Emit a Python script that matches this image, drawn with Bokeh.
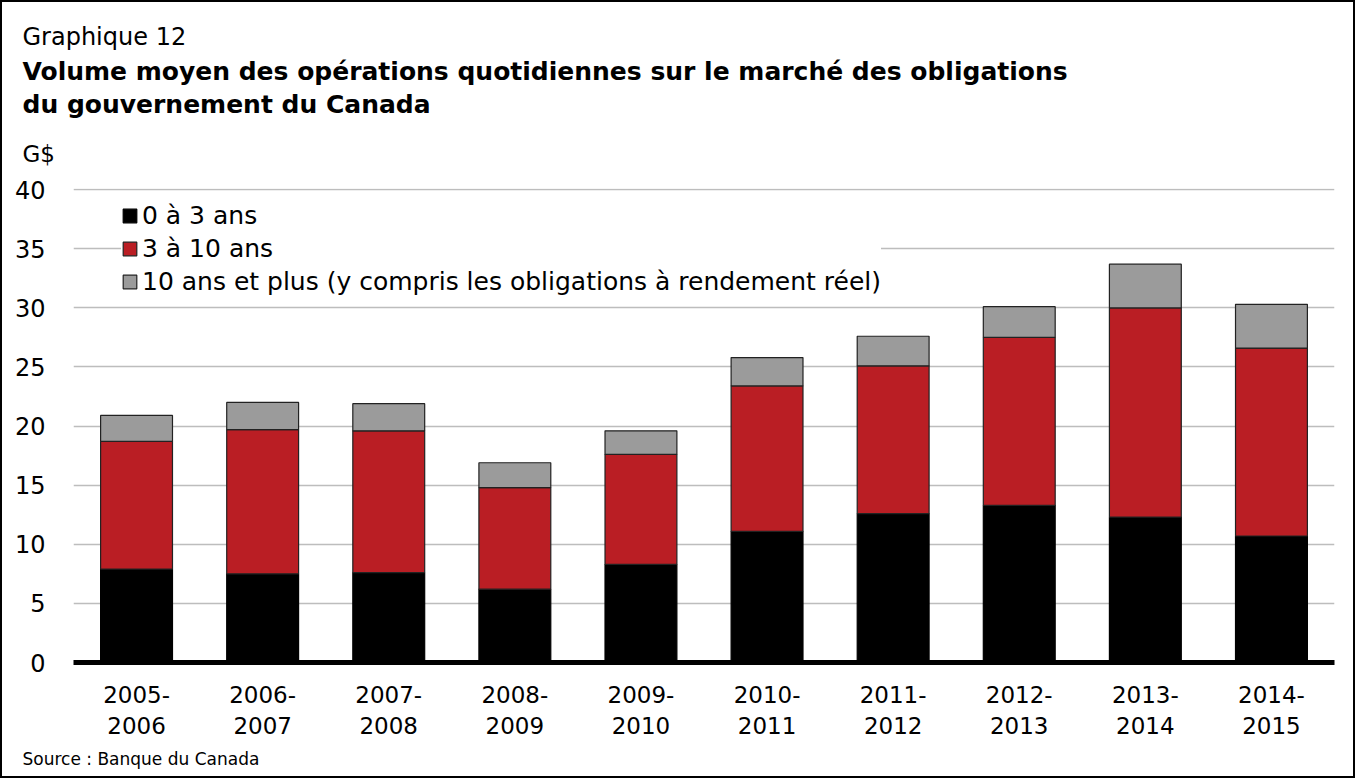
from bokeh.plotting import figure
from bokeh.models import Legend, LegendItem, ColumnDataSource, FixedTicker, Range1d, Title
from bokeh.embed import file_html
from bokeh.resources import INLINE

periods = ["2005-\n2006", "2006-\n2007", "2007-\n2008", "2008-\n2009", "2009-\n2010",
           "2010-\n2011", "2011-\n2012", "2012-\n2013", "2013-\n2014", "2014-\n2015"]
court = [7.9, 7.5, 7.6, 6.2, 8.3, 11.1, 12.6, 13.3, 12.3, 10.7]
moyen = [10.8, 12.2, 12.0, 8.6, 9.3, 12.3, 12.5, 14.2, 17.7, 15.9]
long_ = [2.2, 2.3, 2.3, 2.1, 2.0, 2.4, 2.5, 2.6, 3.7, 3.7]
series = ["court", "moyen", "long"]
names = ["0 à 3 ans", "3 à 10 ans", "10 ans et plus (y compris les obligations à rendement réel)"]
colors = ["#000000", "#BA1E24", "#9B9B9B"]
yticks = [0, 5, 10, 15, 20, 25, 30, 35, 40]

FONT = "DejaVu Sans"
W, H = 1355, 778
FL, FT, FB, FR = 71, 186, 660, 1332

src = ColumnDataSource(dict(period=periods, court=court, moyen=moyen, long=long_))

p = figure(x_range=periods, y_range=Range1d(0, 40.1), width=W, height=H,
           output_backend="svg", toolbar_location=None,
           min_border_left=FL, min_border_right=W - FR,
           min_border_top=FT, min_border_bottom=H - FB)
p.styles = {"border": "2px solid black"}
p.outline_line_color = None
p.background_fill_color = "white"

rs = p.vbar_stack(series, x="period", width=0.57, source=src, fill_color=colors,
                  line_color=["#000000", "#222222", "#222222"], line_width=1.2)

p.xgrid.grid_line_color = None
p.ygrid.grid_line_color = "#BDBDBD"
p.ygrid.grid_line_width = 1.6
p.yaxis.ticker = FixedTicker(ticks=yticks)
p.yaxis.axis_line_color = None
p.yaxis.major_tick_line_color = None
p.yaxis.minor_tick_line_color = None
p.yaxis.major_label_text_font = FONT
p.yaxis.major_label_text_font_size = "24px"
p.yaxis.major_label_text_color = "#000000"
p.yaxis.major_label_standoff = 22

p.xaxis.axis_line_color = "#000000"
p.xaxis.axis_line_width = 5
p.xaxis.major_tick_line_color = None
p.xaxis.minor_tick_line_color = None
p.xaxis.major_label_text_font = FONT
p.xaxis.major_label_text_font_size = "23px"
p.xaxis.major_label_text_color = "#000000"
p.xaxis.major_label_standoff = 13
p.x_range.range_padding = 0.0

legend = Legend(items=[LegendItem(label=names[i], renderers=[rs[i]]) for i in range(3)],
                location=(48, 366), orientation="vertical",
                label_text_font=FONT, label_text_font_size="25px",
                label_text_color="#000000",
                glyph_width=17, glyph_height=17, spacing=4, padding=4,
                border_line_color=None, background_fill_color="white",
                background_fill_alpha=1.0, label_standoff=4, margin=0)
p.add_layout(legend, "center")

def title(text, size, loc, standoff, bold=False, lh=1.2):
    p.add_layout(Title(text=text, text_font=FONT, text_font_size=size, align="left",
                       offset=-51, standoff=standoff, text_color="#000000",
                       text_line_height=lh,
                       text_font_style="bold" if bold else "normal"), loc)

title("G$", "23px", "above", 44)
title("Volume moyen des opérations quotidiennes sur le marché des obligations\n"
      "du gouvernement du Canada", "25px", "above", -6, True, 1.15)
title("Graphique 12", "24px", "above", 15)
title("Source : Banque du Canada", "17px", "below", 11)

open("out.html", "w").write(file_html(p, INLINE))
